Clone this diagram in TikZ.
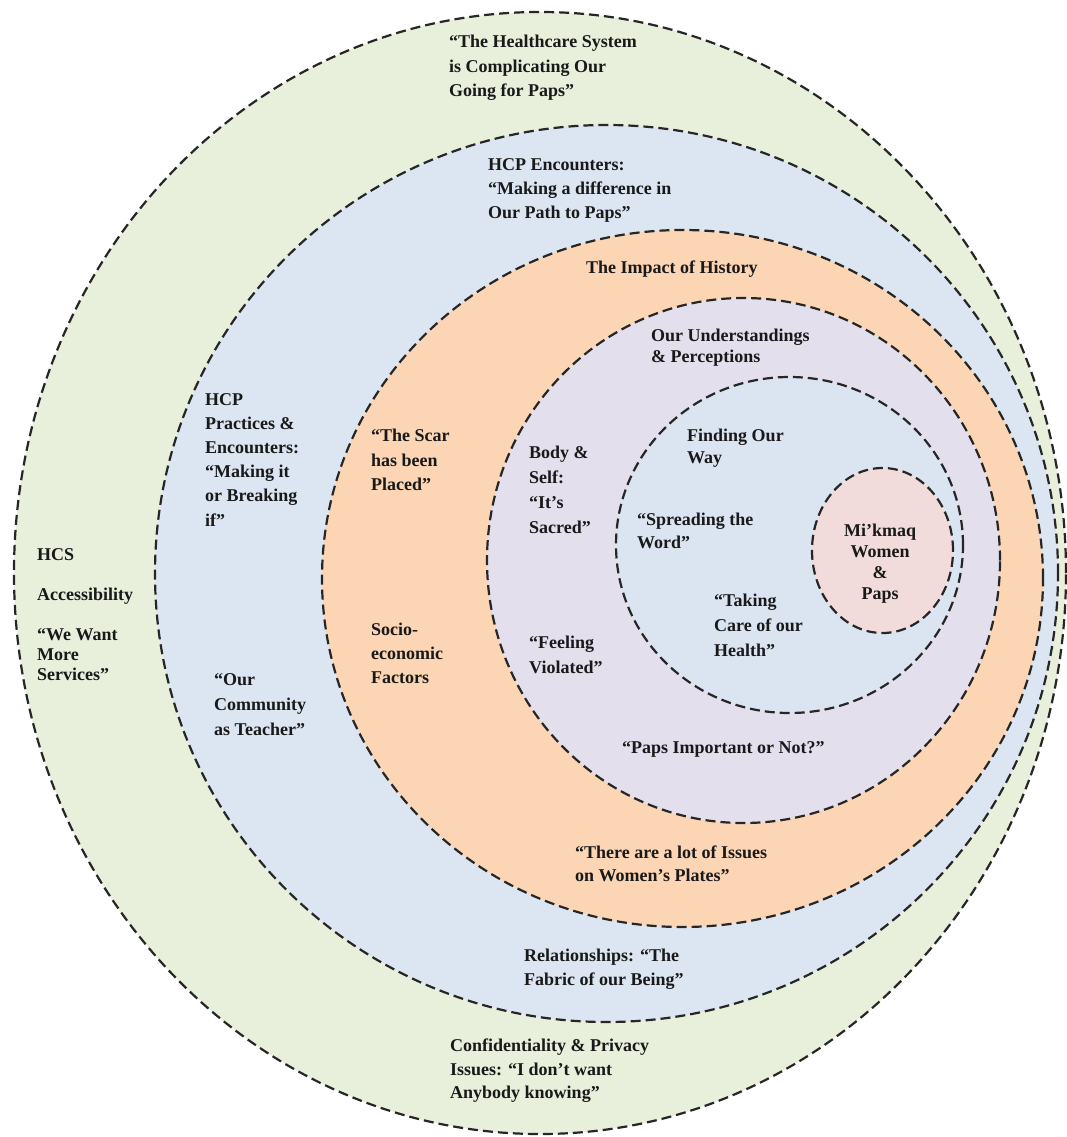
\documentclass[tikz,border=0pt]{standalone}
\usepackage{fontspec}
\setmainfont{Liberation Serif}
\definecolor{ringgreen}{RGB}{232,239,219}
\definecolor{ringblue}{RGB}{220,230,242}
\definecolor{ringorange}{RGB}{252,213,181}
\definecolor{ringpurple}{RGB}{228,223,236}
\definecolor{ringinner}{RGB}{219,229,241}
\definecolor{ringpink}{RGB}{242,220,219}
\definecolor{inkdark}{RGB}{25,25,25}
\begin{document}
\begin{tikzpicture}[x=1pt,y=-1pt,
  ring/.style={draw=black!85, line width=2.2pt, dash pattern=on 10pt off 5pt},
  lbl/.style={anchor=north west, inner sep=0pt, align=left, text=inkdark,
    font=\bfseries\fontsize{18}{#1}\selectfont,
    execute at begin node=\rule{0pt}{14pt}},
  lbl/.default=24,
  clbl/.style={lbl=#1, anchor=north, align=center},
  clbl/.default=21]
\useasboundingbox (0,0) rectangle (1067,1137);
% nested rings
\path[ring, fill=ringgreen]  (540,573)   ellipse [x radius=526pt,   y radius=561pt];
\path[ring, fill=ringblue]   (606.5,573.5) ellipse [x radius=451.5pt, y radius=448.5pt];
\path[ring, fill=ringorange] (682.5,578.5) ellipse [x radius=360.5pt, y radius=348.5pt];
\path[ring, fill=ringpurple] (743.5,560.5) ellipse [x radius=256.5pt, y radius=262.5pt];
\path[ring, fill=ringinner]  (789.5,545)   ellipse [x radius=173.5pt, y radius=168pt];
\path[ring, fill=ringpink]   (882.5,550.5) ellipse [x radius=70.5pt,  y radius=82.5pt];
% labels
\node[lbl=24.5] (hcs) at (449,35) {“The Healthcare System\\is Complicating Our\\Going for Paps”};
\node[lbl] (enc) at (488,158) {HCP Encounters:\\“Making a difference in\\Our Path to Paps”};
\node[lbl] (hist) at (586,259) {The Impact of History};
\node[lbl=21] (under) at (651,329) {Our Understandings\\\& Perceptions};
\node[lbl=24.2] (pract) at (205,393) {HCP\\Practices \&\\Encounters:\\“Making it\\or Breaking\\if”};
\node[lbl=24.5] (scar) at (371,429) {“The Scar\\has been\\Placed”};
\node[lbl=25] (body) at (529,446) {Body \&\\Self:\\“It’s\\Sacred”};
\node[lbl=22] (find) at (687,429) {Finding Our\\Way};
\node[lbl=23] (spread) at (637,513) {“Spreading the\\Word”};
\node[clbl=21] (core) at (880,524) {Mi’kmaq\\Women\\\&\\Paps};
\node[lbl=25] (care) at (714,594) {“Taking\\Care of our\\Health”};
\node[lbl=24] (socio) at (371,623) {Socio-\\economic\\Factors};
\node[lbl=25] (feel) at (529,636) {“Feeling\\Violated”};
\node[lbl] (important) at (622,739) {“Paps Important or Not?”};
\node[lbl=20] (access) at (37,548) {HCS\\[20pt]Accessibility\\[20pt]“We Want\\More\\Services”};
\node[lbl=25] (teacher) at (214,673) {“Our\\Community\\as Teacher”};
\node[lbl=23] (issues) at (575,846) {“There are a lot of Issues\\on Women’s Plates”};
\node[lbl] (relat) at (524,949) {Relationships: “The\\Fabric of our Being”};
\node[lbl=23.5] (privacy) at (450,1039) {Confidentiality \& Privacy\\Issues: “I don’t want\\Anybody knowing”};
\end{tikzpicture}
\end{document}
